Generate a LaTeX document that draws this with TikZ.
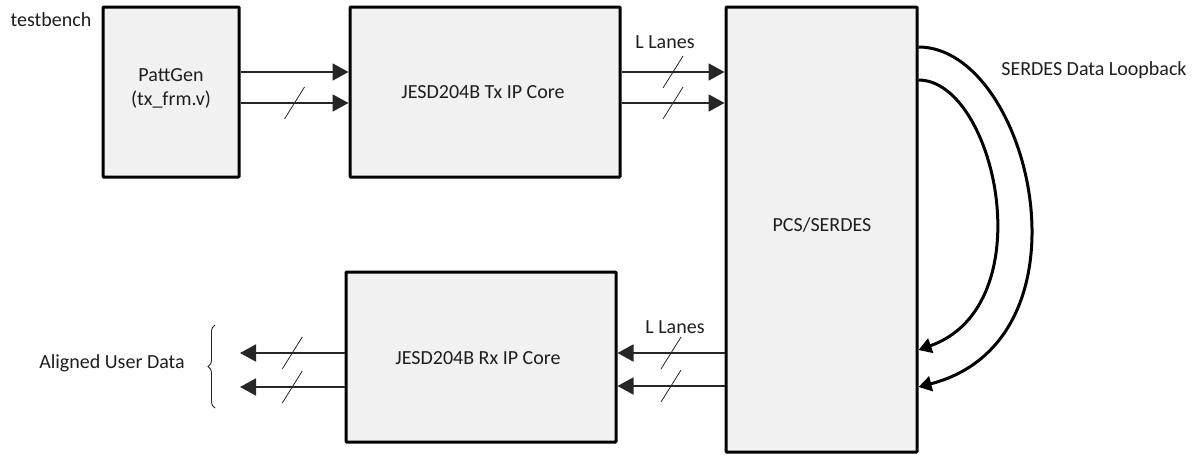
\documentclass[tikz,border=0pt]{standalone}
\usepackage{fontspec}
\setmainfont{Carlito}
\usetikzlibrary{arrows.meta,calc,decorations.pathreplacing}
\definecolor{boxfill}{HTML}{F1F1F1}
\definecolor{txt}{HTML}{1E1E1E}
\begin{document}
\begin{tikzpicture}[x=1pt,y=-1pt,
  every node/.style={text=txt,font=\fontsize{20}{24}\selectfont},
  block/.style={draw=black,line width=3pt,fill=boxfill,rounded corners=0.8pt,inner sep=0pt},
  arr/.style={line width=1.8pt,draw=black!85,-{Triangle[length=16pt,width=17pt]}},
  loop/.style={line width=3pt,draw=black,-{Triangle[length=13pt,width=15pt]}},
  slashline/.style={line width=0.8pt,draw=black!85},
  lbl/.style={inner sep=0pt}]
\useasboundingbox (0,0) rectangle (1197,455);

% blocks
\node[block,minimum width=136pt,minimum height=170pt] (pg) at (171,92) {};
\node[lbl,align=center] (pgt) at (171,88) {PattGen\\(tx\_frm.v)};
\node[block,minimum width=270pt,minimum height=170pt] (tx) at (485,92) {};
\node[lbl] (txt) at (483,92) {JESD204B Tx IP Core};
\node[block,minimum width=191pt,minimum height=445pt] (pcs) at (821.5,229.5) {};
\node[lbl] (pcst) at (822,225) {PCS/SERDES};
\node[block,minimum width=270pt,minimum height=170pt] (rx) at (481,357) {};
\node[lbl] (rxt) at (478,358) {JESD204B Rx IP Core};

% free texts
\node[lbl] (tb) at (51,20) {testbench};
\node[lbl] (ll1) at (665,42) {L Lanes};
\node[lbl] (ll2) at (675,327) {L Lanes};
\node[lbl] (sdl) at (1094,70) {SERDES Data Loopback};
\node[lbl] (aud) at (112,363) {Aligned User Data};

% output ends
\coordinate (o1) at (240,353);
\coordinate (o2) at (240,387);

% PattGen -> Tx
\draw[arr] (pg.east |- 0,72) -- (tx.west |- 0,72);
\draw[arr] (pg.east |- 0,103) -- coordinate[midway] (s1) (tx.west |- 0,103);
% Tx -> PCS
\draw[arr] (tx.east |- 0,72) -- coordinate[midway] (s2) (pcs.west |- 0,72);
\draw[arr] (tx.east |- 0,103) -- coordinate[midway] (s3) (pcs.west |- 0,103);
% PCS -> Rx
\draw[arr] (pcs.west |- 0,353) -- coordinate[midway] (s4) (rx.east |- 0,353);
\draw[arr] (pcs.west |- 0,386) -- coordinate[midway] (s5) (rx.east |- 0,386);
% Rx -> out
\draw[arr] (rx.west |- o1) -- coordinate[midway] (s6) (o1);
\draw[arr] (rx.west |- o2) -- coordinate[midway] (s7) (o2);

% bus slashes
\foreach \s in {s1,s2,s3,s4,s5,s6,s7}
  \draw[slashline] ($(\s)+(-10,16)$) -- ($(\s)+(10,-16)$);

% loopback
\draw[loop] (pcs.east |- 0,47) .. controls (1030,47) and (1100,340) .. (pcs.east |- 0,387);
\draw[loop] (pcs.east |- 0,80) .. controls (995,80) and (1045,305) .. (pcs.east |- 0,350);

% brace
\coordinate (b1) at (215,408);
\coordinate (b2) at (215,325);
\draw[line width=0.9pt,draw=black!85,decorate,decoration={brace,amplitude=7pt}] (b1) -- (b2);
\end{tikzpicture}
\end{document}
